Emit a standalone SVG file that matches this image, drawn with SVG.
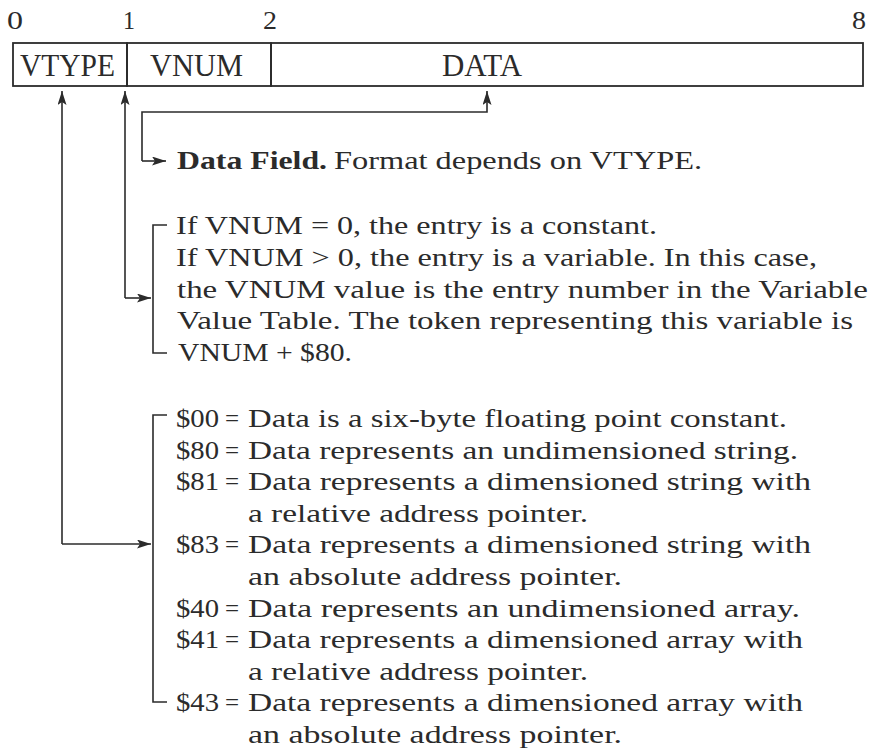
<svg xmlns="http://www.w3.org/2000/svg" width="876" height="750" viewBox="0 0 876 750">
<style>
text{font-family:"Liberation Serif","Times New Roman",serif;fill:#2b2b2b}
.n{font-size:25px}
.f{font-size:31px}
.t{font-size:25px}
.b{font-weight:bold}
.box{fill:none;stroke:#2b2b2b;stroke-width:1.8}
.ln{fill:none;stroke:#2b2b2b;stroke-width:1.6}
</style>
<defs>
<marker id="ah" markerUnits="userSpaceOnUse" markerWidth="15" markerHeight="10" refX="14" refY="4.5" orient="auto" viewBox="0 0 15 10">
<path d="M0,0 L14,4.5 L0,9 L3,4.5 z" fill="#2b2b2b"/>
</marker>
</defs>
<rect width="876" height="750" fill="#fff"/>

<g id="offsets">
<text class="n" x="7" y="29" textLength="16" lengthAdjust="spacingAndGlyphs">0</text>
<text class="n" x="123" y="29" textLength="12" lengthAdjust="spacingAndGlyphs">1</text>
<text class="n" x="263" y="29" textLength="14" lengthAdjust="spacingAndGlyphs">2</text>
<text class="n" x="852" y="29" textLength="14" lengthAdjust="spacingAndGlyphs">8</text>
</g>

<g id="vtype">
<rect class="box" x="13" y="43" width="114" height="43"/>
<text class="f" x="20" y="76" textLength="95" lengthAdjust="spacingAndGlyphs">VTYPE</text>
</g>
<g id="vnum">
<rect class="box" x="127" y="43" width="144" height="43"/>
<text class="f" x="150" y="76" textLength="93" lengthAdjust="spacingAndGlyphs">VNUM</text>
</g>
<g id="data">
<rect class="box" x="271" y="43" width="592" height="43"/>
<text class="f" x="442" y="76" textLength="80" lengthAdjust="spacingAndGlyphs">DATA</text>
</g>

<g id="connectors">
<path class="ln" d="M142,161 L142,112 L487,112 L487,91" marker-end="url(#ah)"/>
<path class="ln" d="M142,161 L166,161" marker-end="url(#ah)"/>
<path class="ln" d="M125,298 L125,91" marker-end="url(#ah)"/>
<path class="ln" d="M125,298 L151,298" marker-end="url(#ah)"/>
<path class="ln" d="M62,544 L62,91" marker-end="url(#ah)"/>
<path class="ln" d="M62,544 L151,544" marker-end="url(#ah)"/>
<path class="ln" d="M167,225 L153,225 L153,353 L167,353"/>
<path class="ln" d="M167,415 L153,415 L153,702 L167,702"/>
</g>

<g id="data-field-desc">
<text class="t b" x="177" y="169" textLength="150" lengthAdjust="spacingAndGlyphs">Data Field.</text>
<text class="t" x="334" y="169" textLength="368" lengthAdjust="spacingAndGlyphs">Format depends on VTYPE.</text>
</g>

<g id="vnum-desc">
<text class="t" x="176" y="234" textLength="481" lengthAdjust="spacingAndGlyphs">If VNUM = 0, the entry is a constant.</text>
<text class="t" x="176" y="266" textLength="641" lengthAdjust="spacingAndGlyphs">If VNUM &gt; 0, the entry is a variable. In this case,</text>
<text class="t" x="177" y="297.5" textLength="691" lengthAdjust="spacingAndGlyphs">the VNUM value is the entry number in the Variable</text>
<text class="t" x="177" y="329" textLength="676" lengthAdjust="spacingAndGlyphs">Value Table. The token representing this variable is</text>
<text class="t" x="178" y="361" textLength="174" lengthAdjust="spacingAndGlyphs">VNUM + $80.</text>
</g>

<g id="vtype-desc">
<text class="t" x="176" y="427" textLength="43" lengthAdjust="spacingAndGlyphs">$00</text><text class="t" x="225" y="427">=</text>
<text class="t" x="248" y="427" textLength="539" lengthAdjust="spacingAndGlyphs">Data is a six-byte floating point constant.</text>
<text class="t" x="176" y="458.6" textLength="43" lengthAdjust="spacingAndGlyphs">$80</text><text class="t" x="225" y="458.6">=</text>
<text class="t" x="248" y="458.6" textLength="550" lengthAdjust="spacingAndGlyphs">Data represents an undimensioned string.</text>
<text class="t" x="176" y="490.2" textLength="43" lengthAdjust="spacingAndGlyphs">$81</text><text class="t" x="225" y="490.2">=</text>
<text class="t" x="248" y="490.2" textLength="563" lengthAdjust="spacingAndGlyphs">Data represents a dimensioned string with</text>
<text class="t" x="248" y="521.8" textLength="340" lengthAdjust="spacingAndGlyphs">a relative address pointer.</text>
<text class="t" x="176" y="553.4" textLength="43" lengthAdjust="spacingAndGlyphs">$83</text><text class="t" x="225" y="553.4">=</text>
<text class="t" x="248" y="553.4" textLength="563" lengthAdjust="spacingAndGlyphs">Data represents a dimensioned string with</text>
<text class="t" x="248" y="585" textLength="374" lengthAdjust="spacingAndGlyphs">an absolute address pointer.</text>
<text class="t" x="176" y="616.6" textLength="43" lengthAdjust="spacingAndGlyphs">$40</text><text class="t" x="225" y="616.6">=</text>
<text class="t" x="248" y="616.6" textLength="552" lengthAdjust="spacingAndGlyphs">Data represents an undimensioned array.</text>
<text class="t" x="176" y="648.2" textLength="43" lengthAdjust="spacingAndGlyphs">$41</text><text class="t" x="225" y="648.2">=</text>
<text class="t" x="248" y="648.2" textLength="555" lengthAdjust="spacingAndGlyphs">Data represents a dimensioned array with</text>
<text class="t" x="248" y="679.8" textLength="340" lengthAdjust="spacingAndGlyphs">a relative address pointer.</text>
<text class="t" x="176" y="711.4" textLength="43" lengthAdjust="spacingAndGlyphs">$43</text><text class="t" x="225" y="711.4">=</text>
<text class="t" x="248" y="711.4" textLength="555" lengthAdjust="spacingAndGlyphs">Data represents a dimensioned array with</text>
<text class="t" x="248" y="743" textLength="374" lengthAdjust="spacingAndGlyphs">an absolute address pointer.</text>
</g>
</svg>
